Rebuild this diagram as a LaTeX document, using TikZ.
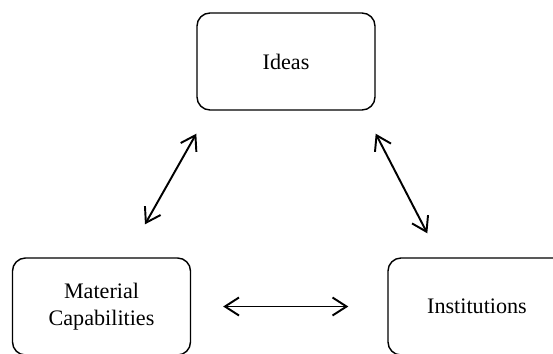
\documentclass[tikz,border=0pt]{standalone}
\usepackage{fontspec}
\setmainfont{Liberation Serif}
\usepackage{tikz}
\usetikzlibrary{positioning,arrows.meta}

\tikzset{
  box/.style={draw,line width=0.8pt,rounded corners=0.26cm,minimum width=3.56cm,minimum height=1.94cm,align=center,font=\fontsize{12.6}{15}\selectfont},
  link/.style={{Straight Barb[length=2.8mm,width=3.6mm]}-{Straight Barb[length=2.8mm,width=3.6mm]},line width=1.1pt}
}

\begin{document}
\begin{tikzpicture}
\useasboundingbox (0,0) rectangle (11.06,7.06);
\clip (0,0) rectangle (11.06,7.06);
% the three boxes
\node[box] (ideas) at (5.72,5.83) {Ideas};
\node[box] (mat) at (2.03,0.93) {Material\\Capabilities};
\node[box] (inst) at (9.54,0.93) {Institutions};
% arrow ends
\coordinate (a1) at ([xshift=0.87cm,yshift=0.66cm]mat.north);
\coordinate (a2) at ([yshift=-0.46cm]ideas.south west);
\coordinate (b1) at ([yshift=-0.46cm]ideas.south east);
\coordinate (b2) at ([xshift=0.8cm,yshift=0.48cm]inst.north west);
\coordinate (c1) at ([xshift=0.64cm]mat.east);
\coordinate (c2) at ([xshift=-0.78cm]inst.west);
\draw[link] (a1) -- (a2);
\draw[link] (b1) -- (b2);
\draw[link] (c1) -- (c2);
\end{tikzpicture}
\end{document}
